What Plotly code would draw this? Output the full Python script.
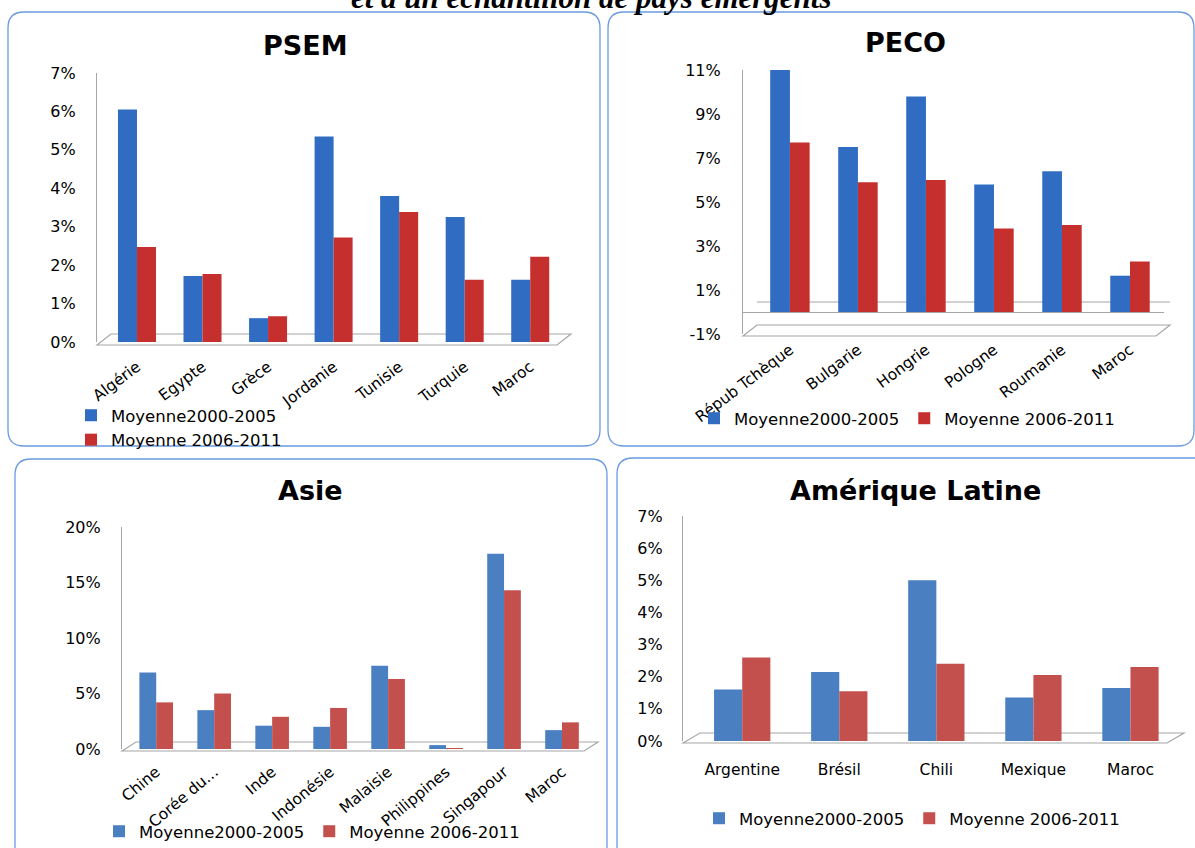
import plotly.graph_objects as go

W, H = 1195, 848


def px(x):
    return x / W


def py(y):
    return 1 - y / H


SERIES = ["Moyenne2000-2005", "Moyenne 2006-2011"]

# ---- data (percent) ----
psem_cats = ["Algérie", "Egypte", "Grèce", "Jordanie", "Tunisie", "Turquie", "Maroc"]
psem_2000_2005 = [6.05, 1.72, 0.62, 5.35, 3.8, 3.25, 1.62]
psem_2006_2011 = [2.47, 1.77, 0.67, 2.72, 3.38, 1.62, 2.22]

peco_cats = ["Répub Tchèque", "Bulgarie", "Hongrie", "Pologne", "Roumanie", "Maroc"]
peco_2000_2005 = [11.2, 7.5, 9.8, 5.8, 6.4, 1.65]
peco_2006_2011 = [7.7, 5.9, 6.0, 3.8, 3.95, 2.3]

asie_cats = ["Chine", "Corée du...", "Inde", "Indonésie", "Malaisie", "Philippines", "Singapour", "Maroc"]
asie_2000_2005 = [6.9, 3.5, 2.1, 2.0, 7.5, 0.35, 17.6, 1.7]
asie_2006_2011 = [4.2, 5.0, 2.9, 3.7, 6.3, 0.05, 14.3, 2.4]

al_cats = ["Argentine", "Brésil", "Chili", "Mexique", "Maroc"]
al_2000_2005 = [1.6, 2.15, 5.0, 1.35, 1.65]
al_2006_2011 = [2.6, 1.55, 2.4, 2.05, 2.3]

psem_ticks = [0, 1, 2, 3, 4, 5, 6, 7]
psem_ticktext = ["0%", "1%", "2%", "3%", "4%", "5%", "6%", "7%"]
peco_ticks = [-1, 1, 3, 5, 7, 9, 11]
peco_ticktext = ["-1%", "1%", "3%", "5%", "7%", "9%", "11%"]
asie_ticks = [0, 5, 10, 15, 20]
asie_ticktext = ["0%", "5%", "10%", "15%", "20%"]
al_ticks = [0, 1, 2, 3, 4, 5, 6, 7]
al_ticktext = ["0%", "1%", "2%", "3%", "4%", "5%", "6%", "7%"]

BLUE_A, RED_A = "#2f6cc2", "#c5302e"
BLUE_B, RED_B = "#4a7fc1", "#c4504d"
AXIS_GREY = "#a6a6a6"
BORDER = "#6a9be0"
FONT = "DejaVu Sans"

panels = [
    dict(cats=psem_cats, a=psem_2000_2005, b=psem_2006_2011, colors=(BLUE_A, RED_A),
         xpx=(97, 563), ypx=(73, 342), yr=[0, 7], ticks=psem_ticks, ticktext=psem_ticktext,
         xr=[-0.61, 6.5], tickangle=-37, xstand=12, ystand=17, title="PSEM", tpos=(305, 45),
         legend=dict(orientation="v", x=px(71), y=py(398), xanchor="left", yanchor="top"),
         floor=[(97, 345), (111, 334), (571, 334), (557, 345)]),
    dict(cats=peco_cats, a=peco_2000_2005, b=peco_2006_2011, colors=(BLUE_A, RED_A),
         xpx=(743, 1164), ypx=(70, 334), yr=[-1, 11], ticks=peco_ticks, ticktext=peco_ticktext,
         xr=[-0.69, 5.5], tickangle=-37, xstand=3, ystand=18, title="PECO", tpos=(905, 42),
         legend=dict(orientation="h", x=px(694), y=py(401), xanchor="left", yanchor="top"),
         floor=[(743, 336), (757, 325), (1170, 325), (1156, 336)]),
    dict(cats=asie_cats, a=asie_2000_2005, b=asie_2006_2011, colors=(BLUE_B, RED_B),
         xpx=(122, 591), ypx=(527, 749), yr=[0, 20], ticks=asie_ticks, ticktext=asie_ticktext,
         xr=[-0.59, 7.5], tickangle=-40, xstand=10, ystand=17, title="Asie", tpos=(310, 490),
         legend=dict(orientation="h", x=px(99), y=py(814), xanchor="left", yanchor="top"),
         floor=[(122, 751), (136, 742), (598, 742), (584, 751)]),
    dict(cats=al_cats, a=al_2000_2005, b=al_2006_2011, colors=(BLUE_B, RED_B),
         xpx=(683, 1179), ypx=(516, 741), yr=[0, 7], ticks=al_ticks, ticktext=al_ticktext,
         xr=[-0.61, 4.5], tickangle=0, xstand=17, ystand=16, title="Amérique Latine", tpos=(915, 490),
         legend=dict(orientation="h", x=px(699), y=py(801), xanchor="left", yanchor="top"),
         floor=[(683, 743), (700, 733), (1184, 733), (1167, 743)]),
]

fig = go.Figure()
layout = dict(
    width=W, height=H, margin=dict(l=0, r=0, t=0, b=0, autoexpand=False),
    paper_bgcolor="white", plot_bgcolor="rgba(0,0,0,0)",
    barmode="group", bargap=0.42, bargroupgap=0.0,
    font=dict(family=FONT, color="#000000"),
    showlegend=True,
)
shapes = []
annotations = []


def rounded_rect(x0, y0, x1, y1, r):
    def P(x, y):
        return f"{px(x):.5f},{py(y):.5f}"
    return ("M " + P(x0 + r, y0) + " L " + P(x1 - r, y0) + " Q " + P(x1, y0) + " " + P(x1, y0 + r)
            + " L " + P(x1, y1 - r) + " Q " + P(x1, y1) + " " + P(x1 - r, y1)
            + " L " + P(x0 + r, y1) + " Q " + P(x0, y1) + " " + P(x0, y1 - r)
            + " L " + P(x0, y0 + r) + " Q " + P(x0, y0) + " " + P(x0 + r, y0) + " Z")


# panel frames
for (x0, y0, x1, y1) in [(8, 12, 600, 446), (608, 12, 1194, 446), (15, 459, 607, 875), (617, 458, 1215, 875)]:
    shapes.append(dict(type="path", xref="paper", yref="paper", path=rounded_rect(x0, y0, x1, y1, 16),
                       line=dict(color=BORDER, width=1.3), fillcolor="rgba(0,0,0,0)", layer="below"))

for i, p in enumerate(panels):
    n = "" if i == 0 else str(i + 1)
    xa, ya = "x" + n, "y" + n
    lg = "legend" + n
    for name, vals, col in [(SERIES[0], p["a"], p["colors"][0]), (SERIES[1], p["b"], p["colors"][1])]:
        fig.add_trace(go.Bar(
            x=p["cats"], y=vals, name=name, xaxis=xa, yaxis=ya, legend=lg,
            marker=dict(color=col, line=dict(width=0)),
            hoverinfo="x+y",
        ))
    layout["xaxis" + n] = dict(
        domain=[px(p["xpx"][0]), px(p["xpx"][1])], anchor=ya, type="category",
        range=p["xr"], showline=False, showgrid=False, zeroline=False, ticks="",
        tickangle=p["tickangle"], ticklabelstandoff=p["xstand"], automargin=False,
        tickfont=dict(family=FONT, size=15.5, color="#000000"),
    )
    layout["yaxis" + n] = dict(
        domain=[py(p["ypx"][1]), py(p["ypx"][0])], anchor=xa, automargin=False,
        range=p["yr"], tickmode="array", tickvals=p["ticks"], ticktext=p["ticktext"], showgrid=False,
        zeroline=(p["yr"][0] < 0), zerolinecolor=AXIS_GREY, zerolinewidth=1,
        showline=True, linecolor=AXIS_GREY, linewidth=1.2, ticks="",
        ticklabelstandoff=p["ystand"],
        tickfont=dict(family=FONT, size=16, color="#000000"),
    )
    lgd = dict(p["legend"])
    lgd.update(dict(bgcolor="rgba(0,0,0,0)", font=dict(family=FONT, size=16.5, color="#000000"),
                    traceorder="normal", itemclick=False, tracegroupgap=0))
    layout[lg] = lgd
    # 3D floor
    pts = p["floor"]
    path = "M " + " L ".join(f"{px(x):.5f},{py(y):.5f}" for x, y in pts) + " Z"
    shapes.append(dict(type="path", xref="paper", yref="paper", path=path,
                       line=dict(color=AXIS_GREY, width=1.2), fillcolor="rgba(0,0,0,0)", layer="below"))
    annotations.append(dict(text="<b>" + p["title"] + "</b>", x=px(p["tpos"][0]), y=py(p["tpos"][1]),
                            xref="paper", yref="paper", xanchor="center", yanchor="middle",
                            showarrow=False, font=dict(family=FONT, size=27, color="#000000")))

# PECO back zero line
shapes.append(dict(type="line", xref="paper", yref="paper", x0=px(757), x1=px(1170), y0=py(302), y1=py(302),
                   line=dict(color=AXIS_GREY, width=1.2), layer="below"))

# cropped heading at the very top of the page
annotations.append(dict(text="<b><i>et à un échantillon de pays émergents</i></b>", x=px(591), y=py(17),
                        xref="paper", yref="paper", xanchor="center", yanchor="bottom", showarrow=False,
                        font=dict(family="Liberation Serif", size=31, color="#000000")))

layout["shapes"] = shapes
layout["annotations"] = annotations
fig.update_layout(**layout)
fig.write_html("out.html")
